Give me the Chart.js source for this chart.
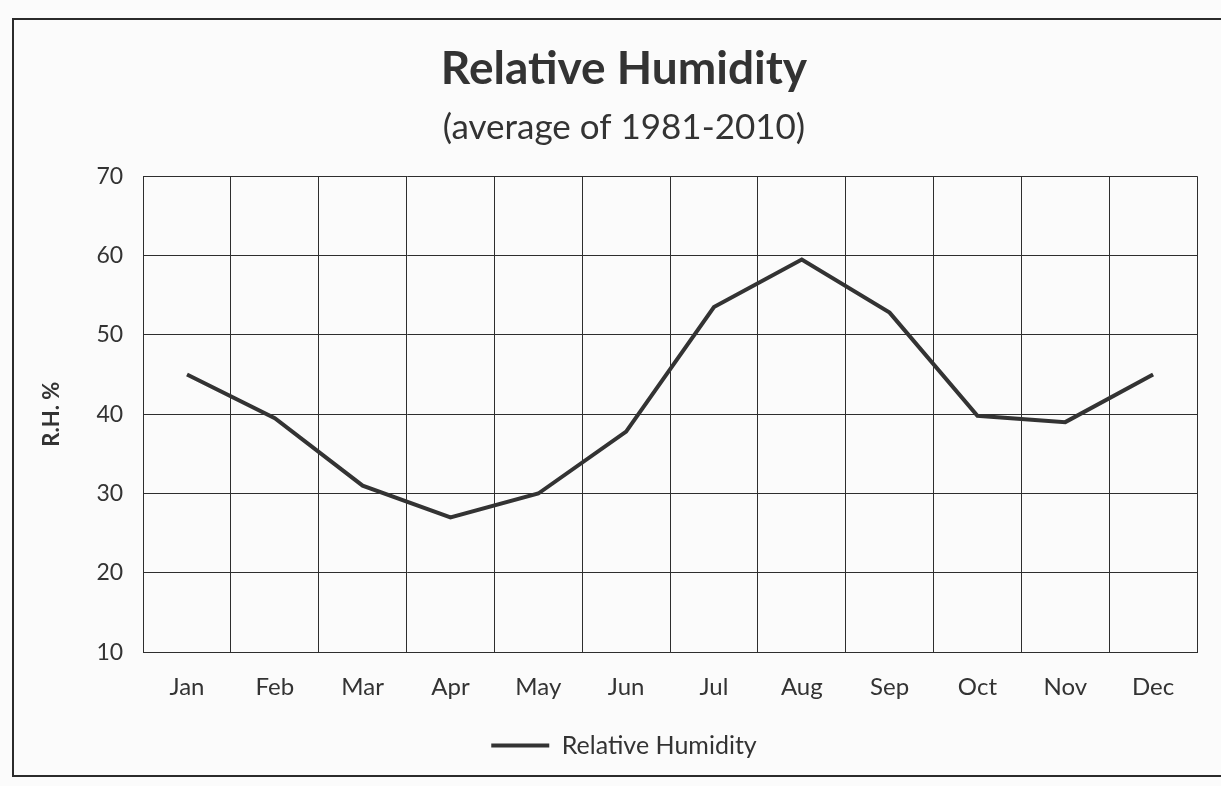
<!DOCTYPE html>
<html>
<head>
<meta charset="utf-8">
<script src="https://cdn.jsdelivr.net/npm/chart.js@4/dist/chart.umd.min.js"></script>
<style>
  html, body { margin: 0; padding: 0; background: #fbfbfb; overflow: hidden; }
  #frame { position: absolute; left: 12px; top: 18px; width: 1300px; height: 755px; border: 2px solid #2b2b2b; }
  #forecast-graph { position: absolute; left: 0; top: 0; }
</style>
</head>
<body>
<div id="frame"></div>
<canvas id="forecast-graph" width="1221" height="786"></canvas>
<script>
// months along the x axis
const months = ['Jan', 'Feb', 'Mar', 'Apr', 'May', 'Jun', 'Jul', 'Aug', 'Sep', 'Oct', 'Nov', 'Dec'];
// relative humidity, %
const humidity = [45, 39.5, 31, 27, 30, 37.8, 53.5, 59.5, 52.8, 39.8, 39, 45];
const yTicks = [10, 20, 30, 40, 50, 60, 70];

const ink = '#333333';
const font = 'Lato, Calibri, "Open Sans", sans-serif';

const ctx = document.getElementById('forecast-graph');

new Chart(ctx, {
  type: 'line',
  data: {
    labels: months,
    datasets: [{
      label: 'Relative Humidity',
      data: humidity,
      borderColor: ink,
      backgroundColor: ink,
      borderWidth: 4,
      pointRadius: 0,
      tension: 0
    }]
  },
  options: {
    responsive: false,
    animation: false,
    // left padding pushes the title/legend centre to the right, like the print
    layout: { padding: { top: 0, right: 24, bottom: 18, left: 51 } },
    plugins: {
      title: {
        display: true,
        text: 'Relative Humidity',
        color: ink,
        font: { family: font, size: 46, weight: 'bold' },
        padding: { top: 42, bottom: 0 }
      },
      subtitle: {
        display: true,
        text: '(average of 1981-2010)',
        color: ink,
        font: { family: font, size: 35 },
        padding: { top: 10, bottom: 27 }
      },
      legend: {
        position: 'bottom',
        labels: {
          color: ink,
          font: { family: font, size: 25 },
          usePointStyle: true,
          pointStyle: 'line',
          pointStyleWidth: 58
        }
      },
      tooltip: { enabled: false }
    },
    scales: {
      x: {
        offset: true,
        grid: { offset: true, color: '#2e2e2e', lineWidth: 1, drawTicks: false },
        border: { color: '#2e2e2e' },
        ticks: { color: ink, font: { family: font, size: 24 }, padding: 21 }
      },
      y: {
        min: yTicks[0],
        max: yTicks[yTicks.length - 1],
        grid: { color: '#2e2e2e', lineWidth: 1, drawTicks: false },
        border: { color: '#2e2e2e' },
        afterBuildTicks: function(scale) {
          scale.ticks = yTicks.map(v => ({ value: v }));
        },
        ticks: { color: ink, font: { family: font, size: 23 }, padding: 20 },
        title: {
          display: true,
          text: 'R.H. %',
          color: ink,
          font: { family: font, size: 22, weight: 'bold' },
          padding: { top: -12, bottom: 11 }
        }
      }
    }
  }
});
</script>
</body>
</html>
